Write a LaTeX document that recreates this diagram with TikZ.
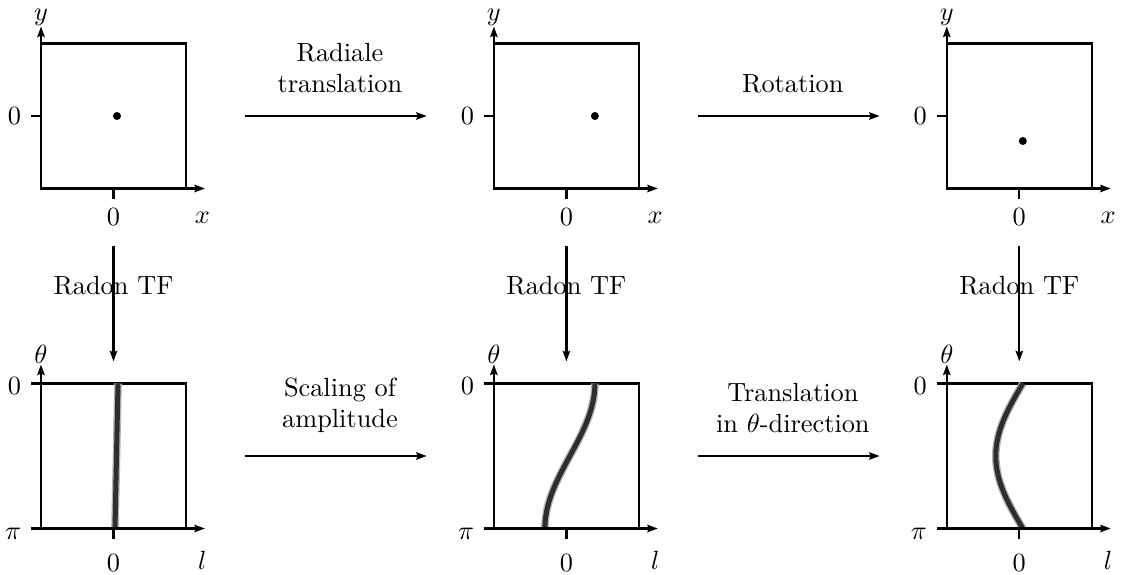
\documentclass[tikz,border=0pt]{standalone}
\usepackage{tikz}
\usetikzlibrary{arrows.meta, positioning, calc}

\begin{document}
\begin{tikzpicture}[
  x=0.38pt, y=0.38pt,
  node distance=74.1pt and 117pt,
  panel/.style={draw, line width=0.9pt, minimum size=55.1pt, inner sep=0pt, outer sep=0pt},
  axis/.style={line width=0.9pt, -{Stealth[length=4pt, width=2.8pt, inset=0.6pt]}},
  tick/.style={line width=0.9pt},
  arr/.style={line width=0.9pt, -{Stealth[length=4pt, width=2.8pt, inset=0.6pt]}},
  lbl/.style={above=5pt, align=center},
  sino/.style={line width=1.9pt, black!82, preaction={draw, black!30, line width=2.9pt}}
]
\useasboundingbox (0,0) rectangle (1122,574);

%% ---- panels ----
\node[panel] (A) at (113.5,458) {};
\node[panel, right=of A] (B) {};
\node[panel, right=of B] (C) {};
\node[panel, below=of A] (D) {};
\node[panel, right=of D] (E) {};
\node[panel, right=of E] (F) {};

%% ---- image domain: point sources ----
\fill ($(A)+(3.5,0)$)   circle (4);
\fill ($(B)+(28.5,0)$)  circle (4);
\fill ($(C)+(3.5,-25)$) circle (4);

%% ---- Radon domain: sinograms ----
\draw[sino] ($(D.north)+(4.5,0)$) -- ($(D.south)+(1.5,0)$);
\draw[sino, shift={(E.north)}] plot[domain=0:180, samples=60, smooth] ({3.5+25*cos(\x)}, {-0.8056*\x});
\draw[sino, shift={(F.north)}] plot[domain=0:180, samples=60, smooth] ({3.5-27*sin(\x)}, {-0.8056*\x});

%% ---- axes, top row ----
\draw[axis] (A.south west) -- ++(0,162) node[above=-3.5pt] (yA) {$y$};
\draw[axis] (A.south west) -- ++(164,0) node[below=5.4pt, xshift=-1pt] (xA) {$x$};
\draw[tick] (A.west) -- ++(-10,0) node[left] (yA0) {$0$};
\draw[tick] (A.south) -- ++(0,-10) node[below] (xA0) {$0$};

\draw[axis] (B.south west) -- ++(0,162) node[above=-3.5pt] (yB) {$y$};
\draw[axis] (B.south west) -- ++(164,0) node[below=5.4pt, xshift=-1pt] (xB) {$x$};
\draw[tick] (B.west) -- ++(-10,0) node[left] (yB0) {$0$};
\draw[tick] (B.south) -- ++(0,-10) node[below] (xB0) {$0$};

\draw[axis] (C.south west) -- ++(0,162) node[above=-3.5pt] (yC) {$y$};
\draw[axis] (C.south west) -- ++(164,0) node[below=5.4pt, xshift=-1pt] (xC) {$x$};
\draw[tick] (C.west) -- ++(-10,0) node[left] (yC0) {$0$};
\draw[tick] (C.south) -- ++(0,-10) node[below] (xC0) {$0$};

%% ---- axes, bottom row ----
\draw[axis] (D.south west) -- ++(0,164) node[above=-3.5pt] (tD) {$\theta$};
\draw[axis] (D.south west) -- ++(164,0) node[below=5pt, xshift=-1pt] (lD) {$l$};
\draw[tick] (D.north west) -- ++(-10,0) node[left, yshift=-1pt] (tD0) {$0$};
\draw[tick] (D.south west) -- ++(-10,0) node[left, yshift=-2pt] (tDpi) {$\pi$};
\draw[tick] (D.south) -- ++(0,-10) node[below=2.5pt] (lD0) {$0$};

\draw[axis] (E.south west) -- ++(0,164) node[above=-3.5pt] (tE) {$\theta$};
\draw[axis] (E.south west) -- ++(164,0) node[below=5pt, xshift=-1pt] (lE) {$l$};
\draw[tick] (E.north west) -- ++(-10,0) node[left, yshift=-1pt] (tE0) {$0$};
\draw[tick] (E.south west) -- ++(-10,0) node[left, yshift=-2pt] (tEpi) {$\pi$};
\draw[tick] (E.south) -- ++(0,-10) node[below=2.5pt] (lE0) {$0$};

\draw[axis] (F.south west) -- ++(0,164) node[above=-3.5pt] (tF) {$\theta$};
\draw[axis] (F.south west) -- ++(164,0) node[below=5pt, xshift=-1pt] (lF) {$l$};
\draw[tick] (F.north west) -- ++(-10,0) node[left, yshift=-1pt] (tF0) {$0$};
\draw[tick] (F.south west) -- ++(-10,0) node[left, yshift=-2pt] (tFpi) {$\pi$};
\draw[tick] (F.south) -- ++(0,-10) node[below=2.5pt] (lF0) {$0$};

%% ---- operations ----
\draw[arr, shorten <=22.4pt, shorten >=25.5pt] (A) -- (B) node[midway, lbl] (opAB) {Radiale\\translation};
\draw[arr, shorten <=22.4pt, shorten >=25.5pt] (B) -- (C) node[midway, lbl] (opBC) {Rotation};
\draw[arr, shorten <=22.4pt, shorten >=25.5pt] (D) -- (E) node[midway, lbl] (opDE) {Scaling of\\amplitude};
\draw[arr, shorten <=22.4pt, shorten >=25.5pt] (E) -- (F) node[midway, lbl] (opEF) {Translation\\in $\theta$-direction};

\draw[arr, shorten <=22pt, shorten >=8.4pt] (A) -- (D) node[midway] (rAD) {Radon TF};
\draw[arr, shorten <=22pt, shorten >=8.4pt] (B) -- (E) node[midway] (rBE) {Radon TF};
\draw[arr, shorten <=22pt, shorten >=8.4pt] (C) -- (F) node[midway] (rCF) {Radon TF};

\end{tikzpicture}
\end{document}
